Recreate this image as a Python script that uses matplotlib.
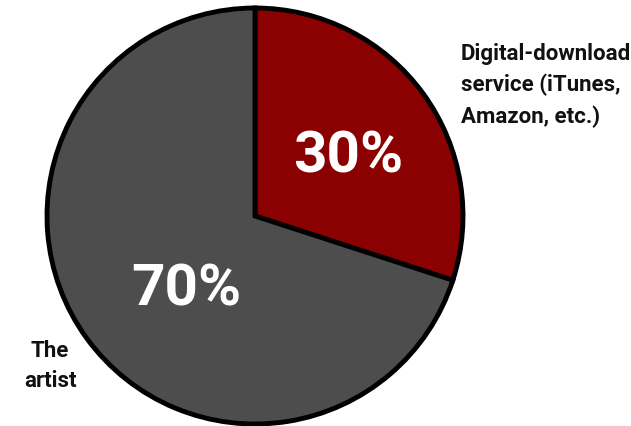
import matplotlib.pyplot as plt

# Share of a digital-download sale
shares = [30, 70]
share_labels = ["30%", "70%"]
colors = ["#8b0000", "#4d4d4d"]
store_label = "Digital-download\nservice (iTunes,\nAmazon, etc.)"
artist_label = "The\nartist"

W, H = 631, 427
fig = plt.figure(figsize=(W / 100, H / 100), dpi=100)
ax = fig.add_axes([0, 0, 1, 1])

cx, cy, r = 255, H - 217, 208
wedges, _ = ax.pie(shares, colors=colors, startangle=90, counterclock=False,
                   center=(cx, cy), radius=r,
                   wedgeprops=dict(edgecolor="black", linewidth=3.5))
ax.set_xlim(0, W)
ax.set_ylim(0, H)
ax.axis("off")

font = dict(family=["Roboto", "DejaVu Sans"], fontweight="bold")

ax.text(348, H - 157, share_labels[0], color="white", fontsize=42,
        ha="center", va="center", **font)
ax.text(186, H - 290, share_labels[1], color="white", fontsize=42,
        ha="center", va="center", **font)

ax.text(461, H - 43, store_label, color="#111111", fontsize=16,
        ha="left", va="top", linespacing=1.5, **font)
ax.text(50, H - 340, artist_label, color="#111111", fontsize=16,
        ha="center", va="top", linespacing=1.5, **font)

fig.savefig("out.png", dpi=100)
